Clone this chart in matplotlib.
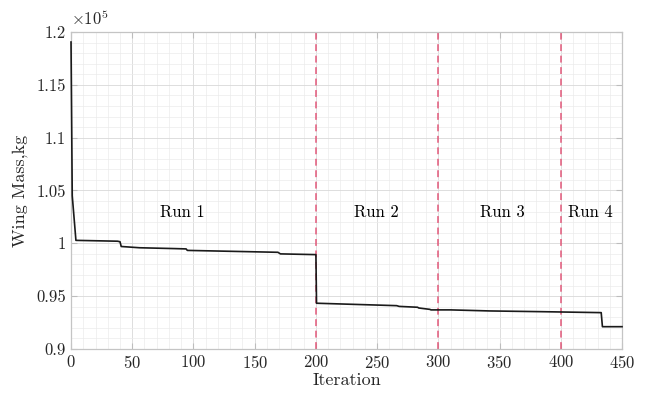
import matplotlib
matplotlib.use("Agg")
import matplotlib.pyplot as plt
import numpy as np
from matplotlib.ticker import MultipleLocator, FuncFormatter

plt.rcParams['font.family'] = 'serif'
plt.rcParams['font.serif'] = ['cmr10', 'DejaVu Serif']
plt.rcParams['mathtext.fontset'] = 'cm'
plt.rcParams['axes.formatter.use_mathtext'] = True
plt.rcParams['font.size'] = 11
plt.rcParams["xtick.direction"] = "in"
plt.rcParams["ytick.direction"] = "in"

# wing mass history (kg)
iteration = [0, 1, 4, 38, 40, 41, 56, 85, 94, 95, 169, 171, 200,
             200.5, 266, 268, 283, 284, 293, 294, 310, 342, 385, 433, 434, 450]
wing_mass = [119050, 104500, 100280, 100200, 100150, 99700, 99580, 99500, 99470, 99330,
             99150, 99000, 98930,
             94330, 94100, 94030, 93950, 93880, 93750, 93700, 93700, 93600, 93530, 93440,
             92110, 92110]

run_bounds = [200, 300, 400]
run_labels = ["Run 1", "Run 2", "Run 3", "Run 4"]
run_label_x = [91, 249, 352, 424]
run_label_y = 102970

fig = plt.figure(figsize=(6.48, 3.93), dpi=100)
ax = fig.add_axes([0.1096, 0.112, 0.8503, 0.8066])

ax.set_axisbelow(True)
ax.grid(True, which='major', color='#d8d8d8', lw=0.6)
ax.grid(True, which='minor', color='#ebebeb', lw=0.5)

for b in run_bounds:
    ax.axvline(b, color='#e3587a', ls=(0, (4.5, 3)), lw=1.1)

ax.plot(iteration, np.array(wing_mass) / 1e5, color='#1a1a1a', lw=1.2,
        zorder=3, clip_on=False)

for lab, x in zip(run_labels, run_label_x):
    ax.text(x, run_label_y / 1e5, lab, ha='center', va='center', fontsize=12)

ax.set_xlim(0, 450)
ax.set_ylim(0.9, 1.2)
ax.xaxis.set_major_locator(MultipleLocator(50))
ax.xaxis.set_minor_locator(MultipleLocator(10))
ax.yaxis.set_major_locator(MultipleLocator(0.05))
ax.yaxis.set_minor_locator(MultipleLocator(0.01))
ax.yaxis.set_major_formatter(FuncFormatter(lambda v, p: "%g" % round(v, 3)))
ax.tick_params(which='both', top=True, right=True, colors='#bdbdbd', labelcolor='#262626', labelsize=12)
ax.tick_params(which='minor', length=0)
ax.tick_params(which='major', length=4)
for s in ax.spines.values():
    s.set_color('#c4c4c4')
    s.set_linewidth(0.9)

ax.text(0.0, 1.012, r'$\times10^5$', transform=ax.transAxes, ha='left', va='bottom', fontsize=12, color='#262626')
ax.set_xlabel("Iteration", fontsize=13, color='#262626', labelpad=1)
ax.set_ylabel("Wing Mass,kg", fontsize=13, color='#262626', labelpad=6)

fig.savefig("out.png", dpi=100)
